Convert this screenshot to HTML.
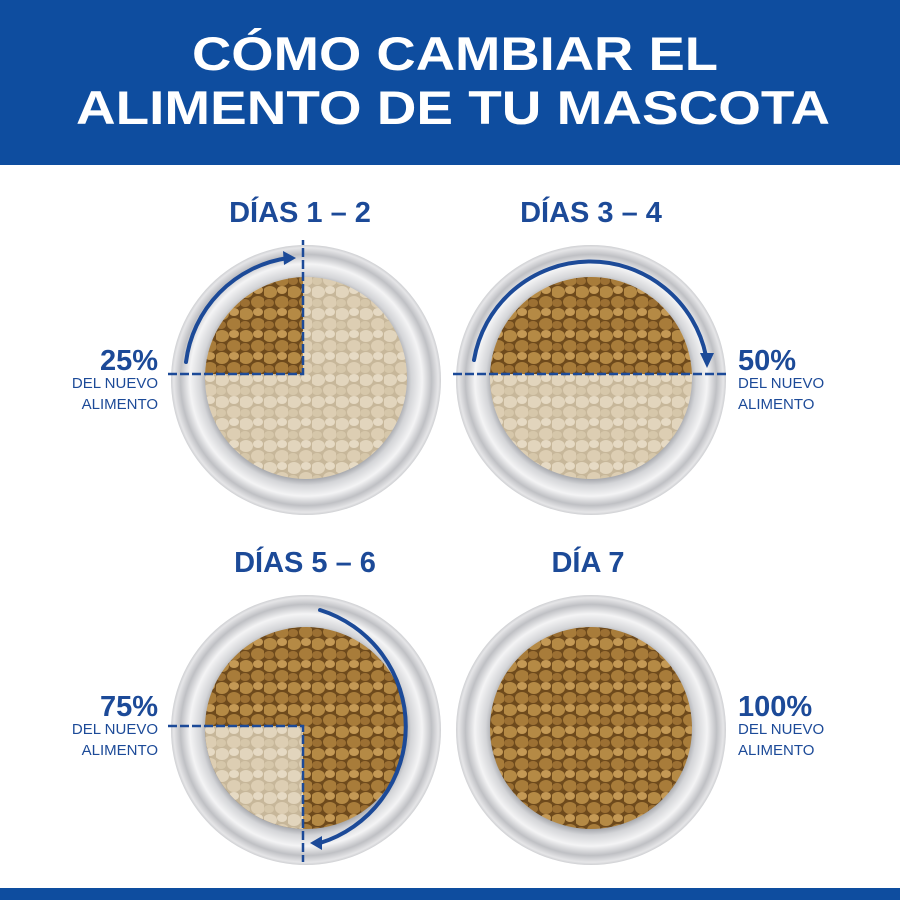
<!DOCTYPE html>
<html><head><meta charset="utf-8"><style>
html,body{margin:0;padding:0;background:#fff;}
svg{display:block}
</style></head><body>
<svg width="900" height="900" viewBox="0 0 900 900" xmlns="http://www.w3.org/2000/svg">
<defs>
<radialGradient id="bowl" cx="50%" cy="50%" r="50%">
<stop offset="0.72" stop-color="#9a9ca2"/>
<stop offset="0.78" stop-color="#d4d5d8"/>
<stop offset="0.86" stop-color="#f4f4f5"/>
<stop offset="0.93" stop-color="#bfc0c4"/>
<stop offset="0.98" stop-color="#e6e6e8"/>
<stop offset="1" stop-color="#cfd0d3"/>
</radialGradient>
<pattern id="kib" width="24" height="22" patternUnits="userSpaceOnUse">
<rect width="24" height="22" fill="#6e4a1c"/>
<ellipse cx="6" cy="6" rx="7" ry="6" fill="#b58a45"/>
<ellipse cx="18" cy="16" rx="7" ry="6" fill="#a87c3a"/>
<ellipse cx="18" cy="4" rx="5" ry="4" fill="#c49955"/>
<ellipse cx="5" cy="17" rx="5" ry="4" fill="#9c7033"/>
</pattern>
<pattern id="kibf" width="24" height="22" patternUnits="userSpaceOnUse">
<rect width="24" height="22" fill="#c7b79a"/>
<ellipse cx="6" cy="6" rx="7" ry="6" fill="#e2d5bd"/>
<ellipse cx="18" cy="16" rx="7" ry="6" fill="#ddceb3"/>
<ellipse cx="18" cy="4" rx="5" ry="4" fill="#e6dac4"/>
<ellipse cx="5" cy="17" rx="5" ry="4" fill="#d6c7aa"/>
</pattern>
<clipPath id="c1"><circle cx="306" cy="378" r="101"/></clipPath>
<clipPath id="c2"><circle cx="591" cy="378" r="101"/></clipPath>
<clipPath id="c3"><circle cx="306" cy="728" r="101"/></clipPath>
<clipPath id="c4"><circle cx="591" cy="728" r="101"/></clipPath>
</defs>
<rect x="0" y="0" width="900" height="165" fill="#0e4d9f"/>
<rect x="0" y="888" width="900" height="12" fill="#0e4d9f"/>
<g font-family="Liberation Sans, sans-serif" font-weight="bold" fill="#fff" font-size="47" text-anchor="middle">
<text x="455" y="70" textLength="526" lengthAdjust="spacingAndGlyphs">CÓMO CAMBIAR EL</text>
<text x="453" y="124" textLength="754" lengthAdjust="spacingAndGlyphs">ALIMENTO DE TU MASCOTA</text>
</g>
<g font-family="Liberation Sans, sans-serif" font-weight="bold" fill="#1c4a98" font-size="29" text-anchor="middle">
<text x="300" y="222">DÍAS 1 – 2</text>
<text x="591" y="222">DÍAS 3 – 4</text>
<text x="305" y="572">DÍAS 5 – 6</text>
<text x="588" y="572">DÍA 7</text>
</g>
<!-- bowls -->
<g>
<circle cx="306" cy="380" r="135" fill="url(#bowl)"/>
<circle cx="591" cy="380" r="135" fill="url(#bowl)"/>
<circle cx="306" cy="730" r="135" fill="url(#bowl)"/>
<circle cx="591" cy="730" r="135" fill="url(#bowl)"/>
</g>
<g clip-path="url(#c1)"><rect x="200" y="270" width="220" height="220" fill="url(#kibf)"/><rect x="200" y="270" width="103" height="104" fill="url(#kib)"/></g>
<g clip-path="url(#c2)"><rect x="485" y="270" width="220" height="220" fill="url(#kibf)"/><rect x="485" y="270" width="220" height="104" fill="url(#kib)"/></g>
<g clip-path="url(#c3)"><rect x="200" y="620" width="220" height="220" fill="url(#kib)"/><rect x="200" y="726" width="103" height="120" fill="url(#kibf)"/></g>
<g clip-path="url(#c4)"><rect x="485" y="620" width="220" height="220" fill="url(#kib)"/></g>
<!-- lines -->
<g stroke="#1c4a98" stroke-width="2.5" fill="none" stroke-dasharray="9 3">
<path d="M168 374 H303 V240"/>
<path d="M453 374 H728"/>
<path d="M168 726 H303 V862"/>
</g>
<g stroke="#1c4a98" stroke-width="4" fill="none" stroke-linecap="round">
<path d="M186 362 A120 120 0 0 1 288 258"/>
<path d="M474 360 A118 118 0 0 1 706 356"/>
<path d="M320 610 A122 122 0 0 1 320 843"/>
</g>
<g fill="#1c4a98">
<polygon points="296,258 283,251 284,265"/>
<polygon points="707,368 700,353 714,353"/>
<polygon points="310,843 322,836 322,850"/>
</g>
<g font-family="Liberation Sans, sans-serif" fill="#1c4a98">
<g text-anchor="end">
<text x="158" y="370" font-size="29" font-weight="bold">25%</text>
<text x="158" y="388" font-size="15">DEL NUEVO</text>
<text x="158" y="409" font-size="15">ALIMENTO</text>
<text x="158" y="716" font-size="29" font-weight="bold">75%</text>
<text x="158" y="734" font-size="15">DEL NUEVO</text>
<text x="158" y="755" font-size="15">ALIMENTO</text>
</g>
<g text-anchor="start">
<text x="738" y="370" font-size="29" font-weight="bold">50%</text>
<text x="738" y="388" font-size="15">DEL NUEVO</text>
<text x="738" y="409" font-size="15">ALIMENTO</text>
<text x="738" y="716" font-size="29" font-weight="bold">100%</text>
<text x="738" y="734" font-size="15">DEL NUEVO</text>
<text x="738" y="755" font-size="15">ALIMENTO</text>
</g>
</g>
</svg>
</body></html>
